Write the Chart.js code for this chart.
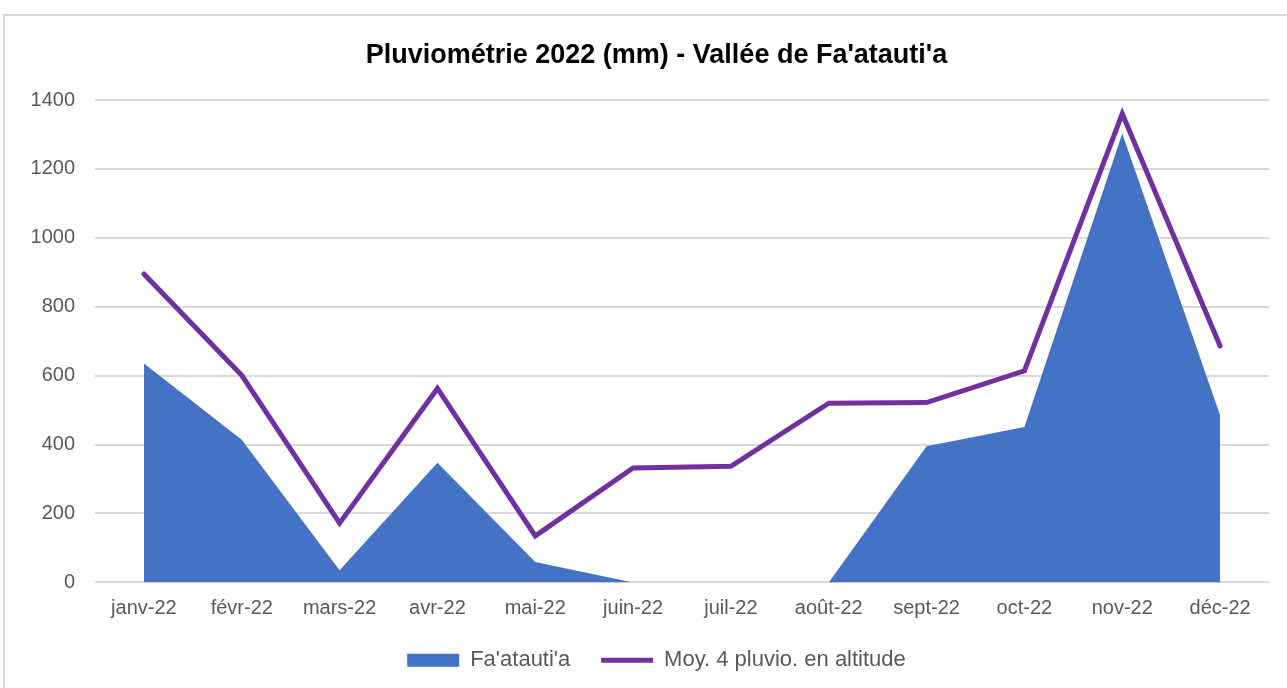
<!DOCTYPE html>
<html lang="fr">
<head>
    <meta charset="UTF-8">
    <title>Pluviométrie 2022 - Vallée de Fa'atauti'a</title>
    <script src="https://cdn.jsdelivr.net/npm/chart.js"></script>
    <style>
        html, body { margin: 0; padding: 0; background: #fff; }
        #wrap { width: 1287px; height: 688px; }
    </style>
</head>
<body>
    <div id="wrap"><canvas id="chartPluvio"></canvas></div>

    <script>
        // données (mm)
        const months = ['janv-22', 'févr-22', 'mars-22', 'avr-22', 'mai-22', 'juin-22',
                        'juil-22', 'août-22', 'sept-22', 'oct-22', 'nov-22', 'déc-22'];
        const faatautia = [635, 414, 35, 347, 59, 0, 0, 0, 395, 451, 1303, 485];
        const moyAltitude = [895, 601, 172, 563, 135, 332, 337, 520, 522, 614, 1360, 686];
        const yTicks = [0, 200, 400, 600, 800, 1000, 1200, 1400];

        // cadre gris du graphique Excel (il continue hors de l'image à droite et en bas)
        const frame = {
            id: 'frame',
            beforeDraw(chart) {
                const ctx = chart.ctx;
                ctx.save();
                ctx.fillStyle = '#fff';
                ctx.fillRect(0, 0, chart.width, chart.height);
                ctx.strokeStyle = '#d9d9d9';
                ctx.lineWidth = 2;
                ctx.strokeRect(4, 15, chart.width + 20, chart.height + 20);
                ctx.restore();
            },
            // titre et légende centrés sur le cadre complet, un peu plus à droite
            afterLayout(chart) {
                [chart.titleBlock, chart.legend].forEach(b => {
                    if (b) { b.left += 22; b.right += 22; }
                });
            }
        };

        new Chart(document.getElementById('chartPluvio'), {
            type: 'line',
            data: {
                labels: months,
                datasets: [{
                    label: "Fa'atauti'a",
                    data: faatautia,
                    backgroundColor: '#4472C4',
                    borderColor: '#4472C4',
                    borderWidth: 0,
                    fill: 'origin',
                    pointRadius: 0,
                    pointStyle: 'rect',
                    order: 2
                }, {
                    label: 'Moy. 4 pluvio. en altitude',
                    data: moyAltitude,
                    borderColor: '#7030A0',
                    backgroundColor: '#7030A0',
                    borderWidth: 5,
                    fill: false,
                    pointRadius: 0,
                    pointStyle: 'line',
                    borderJoinStyle: 'miter',
                    borderCapStyle: 'round',
                    order: 1
                }]
            },
            options: {
                responsive: true,
                maintainAspectRatio: false,
                animation: false,
                layout: { padding: { left: 0, right: 18, top: 0, bottom: 6.8 } },
                plugins: {
                    title: {
                        display: true,
                        text: "Pluviométrie 2022 (mm) - Vallée de Fa'atauti'a",
                        color: '#000',
                        font: { family: 'Liberation Sans, Arial', size: 27, weight: 'bold' },
                        padding: { top: 39, bottom: 28.6 }
                    },
                    legend: {
                        position: 'bottom',
                        labels: {
                            usePointStyle: true,
                            pointStyleWidth: 52,
                            boxHeight: 13,
                            padding: 30.8,
                            color: '#595959',
                            font: { family: 'Liberation Sans, Arial', size: 22 },
                            sort: (a, b) => a.datasetIndex - b.datasetIndex
                        }
                    },
                    tooltip: { enabled: false }
                },
                scales: {
                    x: {
                        offset: true,
                        afterFit: scale => { scale.height = 36; },
                        grid: { display: false },
                        border: { display: false },
                        ticks: {
                            color: '#595959',
                            padding: 6,
                            maxRotation: 0,
                            font: { family: 'Liberation Sans, Arial', size: 20 }
                        }
                    },
                    y: {
                        min: 0,
                        max: 1400,
                        afterBuildTicks: scale => { scale.ticks = yTicks.map(v => ({ value: v })); },
                        afterFit: scale => { scale.width = 95; },
                        grid: { color: '#d9d9d9', lineWidth: 2, drawTicks: false },
                        border: { display: false },
                        ticks: {
                            color: '#595959',
                            padding: 20,
                            callback: v => String(v),
                            font: { family: 'Liberation Sans, Arial', size: 20 }
                        }
                    }
                }
            },
            plugins: [frame]
        });
    </script>
</body>
</html>
